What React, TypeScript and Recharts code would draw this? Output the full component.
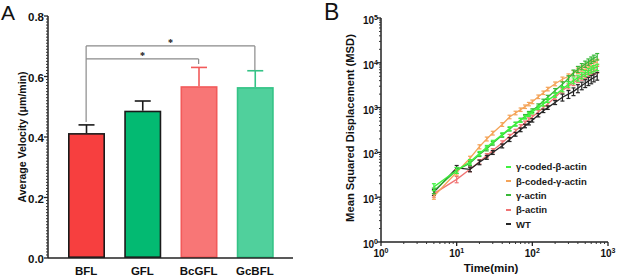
import React from 'react';
import { BarChart, Bar, XAxis, YAxis, ReferenceLine, LineChart, Line, ErrorBar, Legend } from 'recharts';

const FONT = '"Liberation Sans", Arial, sans-serif';

// ---------- Panel A data ----------
const categories = ['BFL', 'GFL', 'BcGFL', 'GcBFL'];
const velocity = [0.413, 0.487, 0.568, 0.565];
const velocityErr = [0.027, 0.032, 0.062, 0.054];
const barFills = ['#f73f3f', '#03ba72', '#f87676', '#50d09c'];
const barStrokes = ['#1a1a1a', '#1a1a1a', '#f25a5a', '#34c386'];
const velocityTicks = [0, 0.2, 0.4, 0.6, 0.8];

// ---------- Panel B data ----------
const times = [5, 10, 15, 20, 25, 30, 40, 50, 60, 70, 80, 90, 100, 120, 140, 160, 200, 250, 300, 350, 400, 450, 500, 550, 600, 650, 720];
const wtMSD = [13, 45, 42, 60, 78, 100, 140, 195, 255, 320, 390, 450, 520, 680, 850, 1000, 1300, 1700, 2000, 2300, 2700, 3100, 3500, 3900, 4300, 4700, 5100];
const wtErr = [2, 6, 5, 7, 8, 10, 14, 20, 25, 30, 35, 40, 45, 60, 75, 90, 130, 300, 400, 450, 550, 600, 700, 800, 900, 950, 1000];
const betaMSD = [12, 25, 42, 62, 85, 110, 165, 230, 300, 380, 460, 540, 620, 800, 1000, 1200, 1700, 2400, 3000, 3600, 4200, 4800, 5300, 5800, 6300, 6700, 7100];
const betaErr = [2, 4, 5, 7, 9, 11, 16, 22, 28, 35, 42, 50, 58, 75, 95, 115, 170, 300, 400, 500, 600, 700, 800, 900, 1000, 1100, 1200];
const gammaMSD = [14, 40, 57, 90, 120, 160, 240, 330, 430, 530, 640, 750, 860, 1100, 1400, 1700, 2400, 3300, 4500, 6000, 7200, 8300, 9400, 10500, 11600, 12700, 13800];
const gammaErr = [2, 6, 6, 9, 12, 15, 22, 30, 40, 50, 60, 70, 80, 110, 140, 180, 260, 450, 650, 900, 1100, 1300, 1500, 1700, 1900, 2100, 2300];
const bcgMSD = [10.5, 36, 74, 134, 200, 270, 420, 620, 760, 900, 1050, 1200, 1350, 1750, 2150, 2600, 3400, 4300, 5000, 5900, 6700, 7500, 8200, 8900, 9500, 10000, 10500];
const bcgErr = [1.5, 5, 8, 14, 20, 26, 40, 56, 70, 80, 95, 105, 125, 160, 190, 240, 330, 500, 650, 800, 900, 1000, 1100, 1200, 1300, 1400, 1500];
const gcbMSD = [17, 40, 62, 95, 130, 170, 250, 340, 430, 520, 610, 700, 800, 1000, 1200, 1450, 1900, 2600, 3300, 4000, 4600, 5200, 5800, 6400, 7000, 7500, 8000];
const gcbErr = [3, 6, 7, 10, 13, 16, 24, 32, 40, 48, 56, 65, 75, 95, 120, 150, 200, 350, 450, 600, 700, 800, 900, 1000, 1100, 1200, 1300];

const seriesNames = ['γ-coded-β-actin', 'β-coded-γ-actin', 'γ-actin', 'β-actin', 'WT'];
const seriesKeys = ['gcb', 'bcg', 'gamma', 'beta', 'wt'];
const seriesColors = ['#3ff23f', '#f4a459', '#38b838', '#f07373', '#262626'];

const timeMajor = [1, 10, 100, 1000];
const timeExp = ['0', '1', '2', '3'];
const msdMajor = [1, 10, 100, 1000, 10000, 100000];
const msdExp = ['0', '1', '2', '3', '4', '5'];

// minor tick positions (axis decoration)
const velocityAllTicks: number[] = [];
for (let i = 0; i <= 80; i++) velocityAllTicks.push(Math.round(i) / 100);
const minorLog = (majors: number[]) => {
  const out: number[] = [...majors];
  for (let k = 0; k < majors.length - 1; k++) {
    for (let m = 2; m <= 9; m++) out.push(majors[k] * m);
  }
  return out.sort((a, b) => a - b);
};
const timeAllTicks = minorLog(timeMajor);
const msdAllTicks = minorLog(msdMajor);

const barData = categories.map((c, i) => ({ name: c, v: velocity[i], err: velocityErr[i], idx: i }));
const lineData = times.map((t, i) => ({
  t,
  wt: wtMSD[i], wtE: wtErr[i],
  beta: betaMSD[i], betaE: betaErr[i],
  gamma: gammaMSD[i], gammaE: gammaErr[i],
  bcg: bcgMSD[i], bcgE: bcgErr[i],
  gcb: gcbMSD[i], gcbE: gcbErr[i],
}));

const BarWithErr = (props: any) => {
  const { x, y, width, height, payload } = props;
  const i = payload.idx;
  const pxPerUnit = height / payload.v;
  const errPx = payload.err * pxPerUnit;
  const cx = x + width / 2;
  return (
    <g>
      <line x1={cx} x2={cx} y1={y} y2={y - errPx} stroke={barStrokes[i]} strokeWidth={1.6} />
      <line x1={cx - 8} x2={cx + 8} y1={y - errPx} y2={y - errPx} stroke={barStrokes[i]} strokeWidth={1.6} />
      <rect x={x + 0.8} y={y + 0.8} width={width - 1.6} height={height - 1.6} fill={barFills[i]} stroke={barStrokes[i]} strokeWidth={1.6} />
    </g>
  );
};

const VelTick = (props: any) => {
  const { x, y, payload } = props;
  const v = payload.value;
  const majorIdx = velocityTicks.findIndex((t) => Math.abs(t - v) < 1e-6);
  if (majorIdx < 0) {
    return <line x1={x} x2={x - 2} y1={y} y2={y} stroke="#333" strokeWidth={1} />;
  }
  return (
    <g>
      <line x1={x} x2={x - 4} y1={y} y2={y} stroke="#222" strokeWidth={1.3} />
      <text x={x - 4} y={y + 5} textAnchor="end" fontSize={11.5} fontWeight="bold" fontFamily={FONT} fill="#111">
        {velocityTicks[majorIdx].toFixed(1)}
      </text>
    </g>
  );
};

const CatTick = (props: any) => {
  const { x, y, payload } = props;
  return (
    <text x={x} y={y + 17} textAnchor="middle" fontSize={11.5} fontWeight="bold" fontFamily={FONT} fill="#111">
      {payload.value}
    </text>
  );
};

const LogXTick = (props: any) => {
  const { x, y, payload } = props;
  const idx = timeMajor.indexOf(payload.value);
  if (idx < 0) return <line x1={x} x2={x} y1={y} y2={y + 2} stroke="#333" strokeWidth={1} />;
  return (
    <g>
      <line x1={x} x2={x} y1={y} y2={y + 4} stroke="#222" strokeWidth={1.3} />
      <text x={x} y={y + 15} textAnchor="middle" fontSize={10} fontWeight="bold" fontFamily={FONT} fill="#111">
        10<tspan dy={-4} fontSize={7}>{timeExp[idx]}</tspan>
      </text>
    </g>
  );
};

const LogYTick = (props: any) => {
  const { x, y, payload } = props;
  const idx = msdMajor.indexOf(payload.value);
  if (idx < 0) return <line x1={x} x2={x - 2} y1={y} y2={y} stroke="#333" strokeWidth={1} />;
  return (
    <g>
      <line x1={x} x2={x - 4} y1={y} y2={y} stroke="#222" strokeWidth={1.3} />
      <text x={x - 3} y={y + 6} textAnchor="end" fontSize={10} fontWeight="bold" fontFamily={FONT} fill="#111">
        10<tspan dy={-4} fontSize={7}>{msdExp[idx]}</tspan>
      </text>
    </g>
  );
};

const LegendContent = () => (
  <div style={{ fontFamily: FONT, fontSize: 9.5, fontWeight: 'bold', color: '#1a1a1a' }}>
    {seriesNames.map((n, i) => (
      <div key={n} style={{ display: 'flex', alignItems: 'center', height: 14.4, whiteSpace: 'nowrap' }}>
        <span style={{ display: 'inline-block', width: 5, height: 2, background: seriesColors[i], marginRight: 5 }} />
        {n}
      </div>
    ))}
  </div>
);

const bracketStyle = { stroke: '#8a8a8a', strokeWidth: 1.2 };
const starLabel = { value: '*', position: 'top' as const, offset: 0, fontSize: 10, fontWeight: 'bold', fill: '#111' };

export default function App() {
  return (
    <div style={{ position: 'absolute', left: 0, top: 0, width: 617, height: 277, background: '#fff', overflow: 'hidden' }}>
      <div style={{ position: 'absolute', left: 0, top: 0 }}>
        <BarChart width={300} height={277} data={barData} margin={{ top: 16, right: 7, bottom: 0, left: 0 }} barSize={37}>
          <XAxis dataKey="name" height={19} padding={{ left: 10, right: 10 }} tick={<CatTick />} tickLine={false} tickSize={0} tickMargin={0} interval={0} axisLine={{ stroke: '#222', strokeWidth: 1.5 }} />
          <XAxis xAxisId="top" orientation="top" dataKey="name" height={0} tick={false} tickLine={false} axisLine={{ stroke: '#6a6a6a', strokeWidth: 1.2 }} />
          <YAxis width={48} domain={[0, 0.8]} ticks={velocityAllTicks} interval={0} tick={<VelTick />} tickLine={false} tickSize={0} tickMargin={0} axisLine={{ stroke: '#222', strokeWidth: 1.5 }} />
          <YAxis yAxisId="right" orientation="right" width={0} tick={false} tickLine={false} axisLine={{ stroke: '#6a6a6a', strokeWidth: 1.2 }} />
          <Bar dataKey="v" isAnimationActive={false} shape={<BarWithErr />} />
          <ReferenceLine segment={[{ x: 'BFL', y: 0.45 }, { x: 'BFL', y: 0.701 }]} {...bracketStyle} />
          <ReferenceLine segment={[{ x: 'BFL', y: 0.701 }, { x: 'GcBFL', y: 0.701 }]} {...bracketStyle} label={starLabel} />
          <ReferenceLine segment={[{ x: 'GcBFL', y: 0.701 }, { x: 'GcBFL', y: 0.621 }]} {...bracketStyle} />
          <ReferenceLine segment={[{ x: 'BFL', y: 0.658 }, { x: 'BcGFL', y: 0.658 }]} {...bracketStyle} label={starLabel} />
          <ReferenceLine segment={[{ x: 'BcGFL', y: 0.658 }, { x: 'BcGFL', y: 0.641 }]} {...bracketStyle} />
        </BarChart>
      </div>
      <div style={{ position: 'absolute', left: 300, top: 0 }}>
        <LineChart width={317} height={277} data={lineData} margin={{ top: 18, right: 9, bottom: 0, left: 0 }}>
          <XAxis dataKey="t" type="number" scale="log" domain={[1, 1000]} allowDataOverflow ticks={timeAllTicks} interval={0} height={35} tick={<LogXTick />} tickLine={false} tickSize={0} tickMargin={0} axisLine={{ stroke: '#222', strokeWidth: 1.5 }} />
          <XAxis xAxisId="top" orientation="top" dataKey="t" type="number" scale="log" domain={[1, 1000]} allowDataOverflow height={0} tick={false} tickLine={false} axisLine={{ stroke: '#6a6a6a', strokeWidth: 1.2 }} />
          <YAxis type="number" scale="log" domain={[1, 100000]} allowDataOverflow ticks={msdAllTicks} interval={0} width={81} tick={<LogYTick />} tickLine={false} tickSize={0} tickMargin={0} axisLine={{ stroke: '#222', strokeWidth: 1.5 }} />
          <YAxis yAxisId="right" orientation="right" width={0} tick={false} tickLine={false} axisLine={{ stroke: '#6a6a6a', strokeWidth: 1.2 }} />
          {[3, 4, 1, 2, 0].map((i) => (
            <Line key={seriesKeys[i]} dataKey={seriesKeys[i]} type="linear" stroke={seriesColors[i]} strokeWidth={1.3} dot={false} isAnimationActive={false} legendType="none">
              <ErrorBar dataKey={seriesKeys[i] + 'E'} width={2} stroke={seriesColors[i]} strokeWidth={1.2} direction="y" />
            </Line>
          ))}
          <Legend layout="vertical" align="center" verticalAlign="middle" content={<LegendContent />} wrapperStyle={{ left: 206, top: 159.5, width: 'auto', height: 'auto' }} />
        </LineChart>
      </div>
      <svg width={617} height={277} style={{ position: 'absolute', left: 0, top: 0, pointerEvents: 'none' }}>
        <text x={1} y={20} fontSize={21} fontFamily={FONT} fill="#111">A</text>
        <text x={324} y={20} fontSize={23} fontFamily={FONT} fill="#111">B</text>
        <text x={22} y={137} transform="rotate(-90 22 137)" textAnchor="middle" dominantBaseline="central" fontSize={10.5} fontWeight="bold" fontFamily={FONT} fill="#111">
          Average Velocity (μm/min)
        </text>
        <text x={350} y={128} transform="rotate(-90 350 128)" textAnchor="middle" dominantBaseline="central" fontSize={11.2} fontWeight="bold" fontFamily={FONT} fill="#111">
          Mean Squared Displacement (MSD)
        </text>
        <text x={491} y={272} textAnchor="middle" fontSize={11.5} fontWeight="bold" fontFamily={FONT} fill="#111">
          Time(min)
        </text>
      </svg>
    </div>
  );
}
